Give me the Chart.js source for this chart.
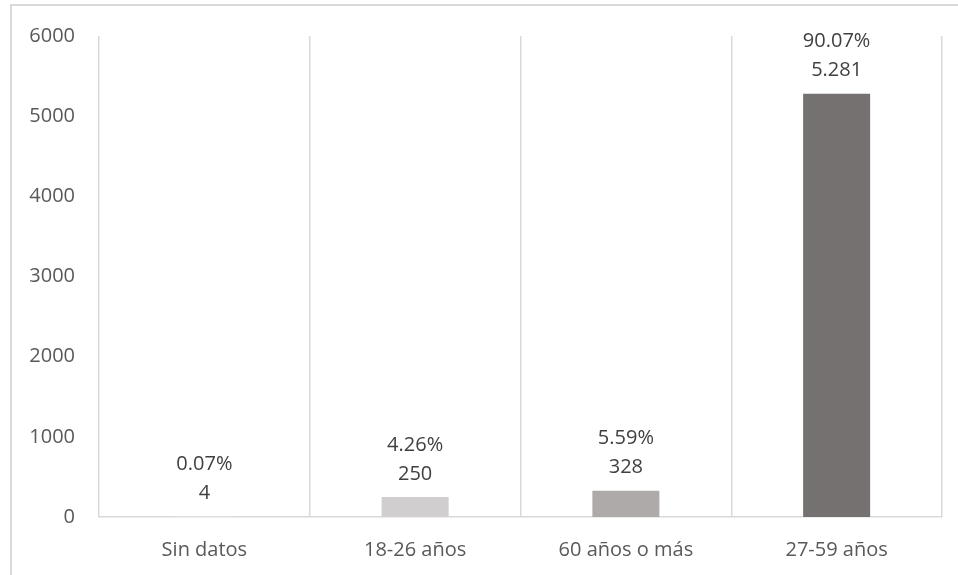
<!DOCTYPE html>
<html lang="es">
<head>
<meta charset="UTF-8">
<title>Distribución por edad</title>
<script src="https://cdn.jsdelivr.net/npm/chart.js"></script>
<style>
    body { margin: 0; background: #fff; }
    .wrap { position: relative; width: 958px; height: 575px; }
</style>
</head>
<body>
<div class="wrap">
    <canvas id="ageChart" width="958" height="575"></canvas>
</div>
<script>
// chart data
const categories = ["Sin datos", "18-26 años", "60 años o más", "27-59 años"];
const counts = [4, 250, 328, 5281];
const percentLabels = ["0.07%", "4.26%", "5.59%", "90.07%"];
const countLabels = ["4", "250", "328", "5.281"];
const barColors = ["#f2f2f2", "#d0cece", "#aeaaaa", "#767171"];

const FONT = "'Open Sans', sans-serif";

// light frame around the chart
const framePlugin = {
    id: "frame",
    beforeDraw(chart) {
        const ctx = chart.ctx;
        ctx.save();
        ctx.strokeStyle = "#d9d9d9";
        ctx.lineWidth = 2;
        ctx.strokeRect(11, 5, 960, 600);
        ctx.restore();
    }
};

// two-line labels above each bar
const barLabels = {
    id: "barLabels",
    afterDatasetsDraw(chart) {
        const ctx = chart.ctx;
        const meta = chart.getDatasetMeta(0);
        ctx.save();
        ctx.font = "20px " + FONT;
        ctx.fillStyle = "#404040";
        ctx.textAlign = "center";
        ctx.textBaseline = "middle";
        meta.data.forEach(function (bar, i) {
            ctx.fillText(countLabels[i], bar.x, bar.y - 23);
            ctx.fillText(percentLabels[i], bar.x, bar.y - 52);
        });
        ctx.restore();
    }
};

new Chart(document.getElementById("ageChart"), {
    type: "bar",
    data: {
        labels: categories,
        datasets: [{
            data: counts,
            backgroundColor: barColors,
            categoryPercentage: 1,
            barPercentage: 0.318
        }]
    },
    options: {
        responsive: false,
        animation: false,
        layout: { padding: { top: 34, right: 16, bottom: 0, left: 0 } },
        plugins: {
            legend: { display: false },
            tooltip: { enabled: false }
        },
        scales: {
            x: {
                grid: { color: "#d9d9d9", lineWidth: 1.5, drawTicks: false, offset: true },
                border: { color: "#d9d9d9", width: 1.5 },
                ticks: { color: "#595959", font: { family: FONT, size: 20 }, padding: 21 },
                afterFit(axis) { axis.height = 58; }
            },
            y: {
                min: 0,
                max: 6000,
                grid: { display: false, drawTicks: false },
                border: { display: false },
                ticks: {
                    stepSize: 1000,
                    color: "#595959",
                    font: { family: FONT, size: 20 },
                    padding: 24,
                    callback: (v) => String(v)
                },
                afterFit(axis) { axis.width = 99; }
            }
        }
    },
    plugins: [framePlugin, barLabels]
});
</script>
</body>
</html>
